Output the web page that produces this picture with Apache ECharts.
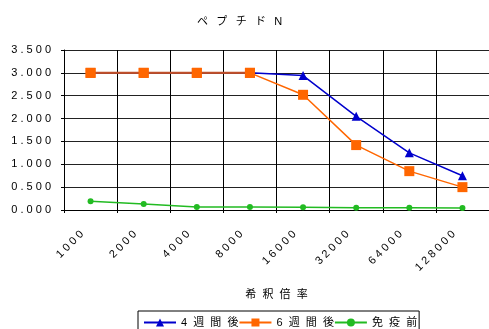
<!DOCTYPE html>
<html><head><meta charset="utf-8">
<script src="https://cdn.jsdelivr.net/npm/echarts@6/dist/echarts.min.js"></script>
<style>html,body{margin:0;padding:0;background:#fff}#c{width:489px;height:329px}</style>
</head><body><div id="c"></div>
<script>
const categories = ['1000','2000','4000','8000','16000','32000','64000','128000'];
const week4 = [3.0, 3.0, 3.0, 3.0, 2.94, 2.05, 1.25, 0.75];
const week6 = [3.0, 3.0, 3.0, 3.0, 2.52, 1.42, 0.85, 0.50];
const preImmune = [0.19, 0.13, 0.065, 0.065, 0.06, 0.05, 0.05, 0.045];
const seriesNames = ['4週間後', '6週間後', '免疫前'];
const titleText = 'ペプチド N';
const xName = '希釈倍率';

// where the two lines coincide, the overlapping stroke looks brownish
const overlap = week6.map((v, i) => (v === week4[i] ? v : null));

const sp = s => s.split('').join(' ');
const sp2 = s => s.split('').join('  ');
const font = '"Liberation Sans", "Noto Sans CJK JP", sans-serif';
const chart = echarts.init(document.getElementById('c'));
chart.setOption({
  animation: false,
  title: { text: titleText.replace(' ', '').split('').join('  \u2009'), left: 192, top: 11,
    textStyle: { fontSize: 11, fontWeight: 'normal', color: '#000', fontFamily: font } },
  grid: { left: 64, right: 0, top: 50, bottom: 119 },
  xAxis: {
    type: 'category', data: categories, boundaryGap: true,
    name: sp2(xName), nameLocation: 'middle', nameGap: 79,
    nameTextStyle: { fontSize: 11, color: '#000', fontFamily: font },
    axisLine: { lineStyle: { color: '#000' } },
    axisTick: { show: true, length: 3, lineStyle: { color: '#000' } },
    splitLine: { show: true, lineStyle: { color: '#000', width: 1 } },
    axisLabel: { rotate: 45, fontSize: 11, color: '#000', fontFamily: font, margin: 14,
      formatter: v => sp(v) + '    ' }
  },
  yAxis: {
    type: 'value', min: 0, max: 3.5, interval: 0.5,
    axisLine: { show: true, lineStyle: { color: '#000' } },
    axisTick: { show: true, length: 3, lineStyle: { color: '#000' } },
    splitLine: { lineStyle: { color: '#222', width: 1 } },
    axisLabel: { fontSize: 11, color: '#000', fontFamily: font, margin: 13,
      formatter: v => sp(v.toFixed(3)) }
  },
  legend: {
    top: 311, left: 138, itemGap: 0, itemWidth: 32, itemHeight: 10,
    padding: [6, 2, 10, 5],
    borderColor: '#000', borderWidth: 1, borderRadius: 0,
    textStyle: { fontSize: 11, color: '#000', fontFamily: font },
    formatter: n => sp2(n),
    data: seriesNames
  },
  series: [
    { name: seriesNames[0], type: 'line', data: week4, symbol: 'triangle', symbolSize: 9,
      color: '#0000cc', lineStyle: { width: 1.5, color: '#0000cc' }, itemStyle: { color: '#0000cc' }, z: 3 },
    { name: seriesNames[1], type: 'line', data: week6, symbol: 'rect', symbolSize: 10,
      color: '#ff6600', lineStyle: { width: 1.5, color: '#ff6600' }, itemStyle: { color: '#ff6600' }, z: 5 },
    { name: 'overlap', type: 'line', data: overlap, symbol: 'rect', symbolSize: 10, silent: true,
      itemStyle: { color: '#ff6600' }, lineStyle: { width: 2, color: '#c0502a' }, z: 6 },
    { name: seriesNames[2], type: 'line', data: preImmune, symbol: 'circle', symbolSize: 6,
      color: '#22bb22', lineStyle: { width: 1.5, color: '#22bb22' }, itemStyle: { color: '#22bb22' }, z: 2 }
  ]
});
</script></body></html>
